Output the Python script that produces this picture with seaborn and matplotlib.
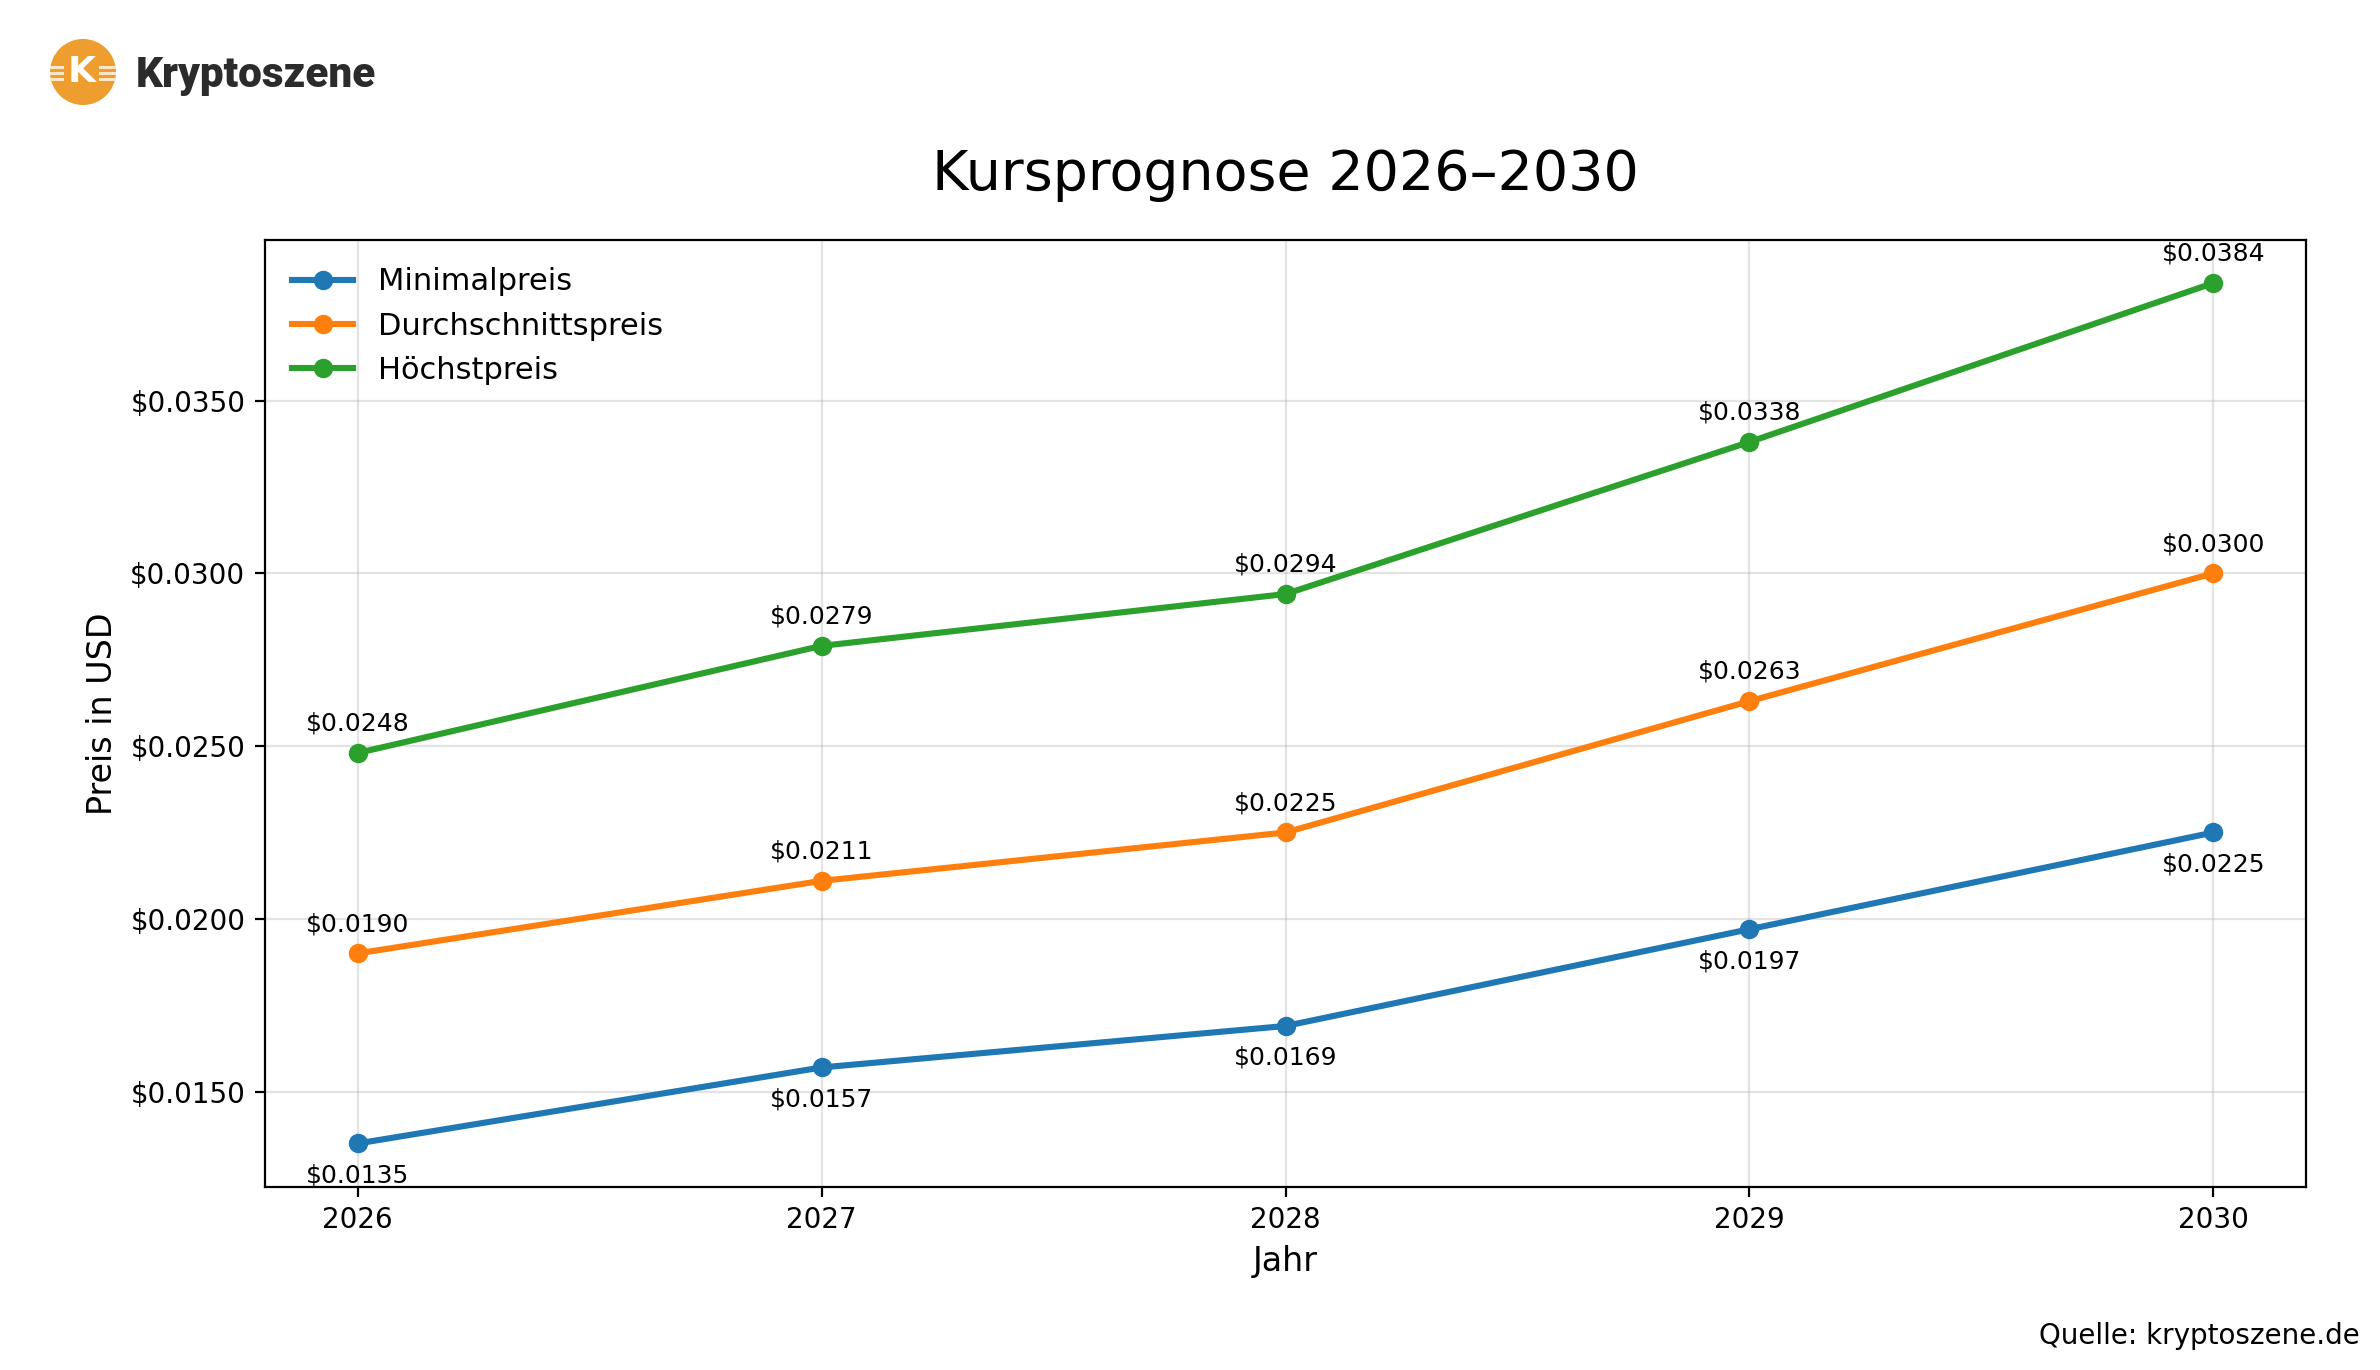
import matplotlib
matplotlib.use("Agg")
import matplotlib.pyplot as plt
from matplotlib.patches import Circle, Rectangle
import pandas as pd
import seaborn as sns

years = [2026, 2027, 2028, 2029, 2030]
min_price = [0.0135, 0.0157, 0.0169, 0.0197, 0.0225]
avg_price = [0.0190, 0.0211, 0.0225, 0.0263, 0.0300]
max_price = [0.0248, 0.0279, 0.0294, 0.0338, 0.0384]
series_names = ["Minimalpreis", "Durchschnittspreis", "Höchstpreis"]
colors = ["#1f77b4", "#ff7f0e", "#2ca02c"]
y_ticks = [0.015, 0.020, 0.025, 0.030, 0.035]

df = pd.DataFrame({"Jahr": years, series_names[0]: min_price,
                   series_names[1]: avg_price, series_names[2]: max_price})
long = df.melt("Jahr", var_name="Serie", value_name="Preis")

sns.set_style("ticks")
plt.rcParams["font.family"] = "DejaVu Sans"
plt.rcParams["text.color"] = "black"
plt.rcParams["axes.labelcolor"] = "black"
fig = plt.figure(figsize=(11.9, 6.85), dpi=200)
ax = fig.add_axes([264.8 / 2380, 1 - 1186.5 / 1370, 2041.4 / 2380, 946.5 / 1370])

sns.lineplot(data=long, x="Jahr", y="Preis", hue="Serie", hue_order=series_names,
             palette=colors, marker="o", markersize=7, markeredgewidth=0,
             linewidth=2.2, errorbar=None, ax=ax)

# Value labels: below the line for the minimum, above it for the other two
for name in series_names:
    offset = -14 if name == series_names[0] else 8
    for x, y in zip(years, df[name]):
        ax.annotate(f"${y:.4f}", (x, y), xytext=(0, offset), textcoords="offset points",
                    ha="center", fontsize=9, color="black", clip_on=False)

ax.margins(0.05)
ax.set_xticks(years)
ax.set_yticks(y_ticks)
ax.set_yticklabels([f"${v:.4f}" for v in y_ticks])
ax.tick_params(labelsize=10, width=0.8, length=3.5, color="black", labelcolor="black")
ax.grid(True, color="#b0b0b0", alpha=0.35, linewidth=0.8)
ax.set_axisbelow(True)
for s in ax.spines.values():
    s.set_visible(True)
    s.set_linewidth(0.8)
    s.set_color("black")
ax.set_xlabel("Jahr", fontsize=12, color="black")
ax.set_ylabel("Preis in USD", fontsize=12, color="black")
legend = ax.legend(title=None, frameon=False, loc="upper left", fontsize=11)
for handle in legend.get_lines():
    handle.set_linewidth(2.2)
    handle.set_markersize(7)
    handle.set_solid_capstyle("projecting")

fig.text(1285 / 2380, 1 - 175 / 1370, "Kursprognose 2026–2030", ha="center", va="center",
         fontsize=20, color="black")
fig.text(2360 / 2380, 1 - 1336 / 1370, "Quelle: kryptoszene.de", ha="right", va="center",
         fontsize=10, color="black")

# Brand mark in the top left corner
logo = fig.add_axes([0, 1 - 120 / 1370, 420 / 2380, 120 / 1370])
logo.set_xlim(0, 420)
logo.set_ylim(120, 0)
logo.axis("off")
logo.add_patch(Circle((83, 72), 33, color="#ee9d2f", lw=0))
logo.text(82, 72, "K", color="white", fontsize=13, fontweight="bold", ha="center", va="center")
for yy in (67, 73, 79):
    logo.add_patch(Rectangle((50, yy - 1), 14, 2.5, color="#fbe6c8", lw=0))
    logo.add_patch(Rectangle((99, yy - 1), 17, 2.5, color="#fbe6c8", lw=0))
logo.text(136, 76, "Kryptoszene", color="#2b2b2b", fontsize=15.2, fontweight=900,
          family="Roboto", ha="left", va="center")

fig.savefig("out.png", dpi=200, facecolor="white")
